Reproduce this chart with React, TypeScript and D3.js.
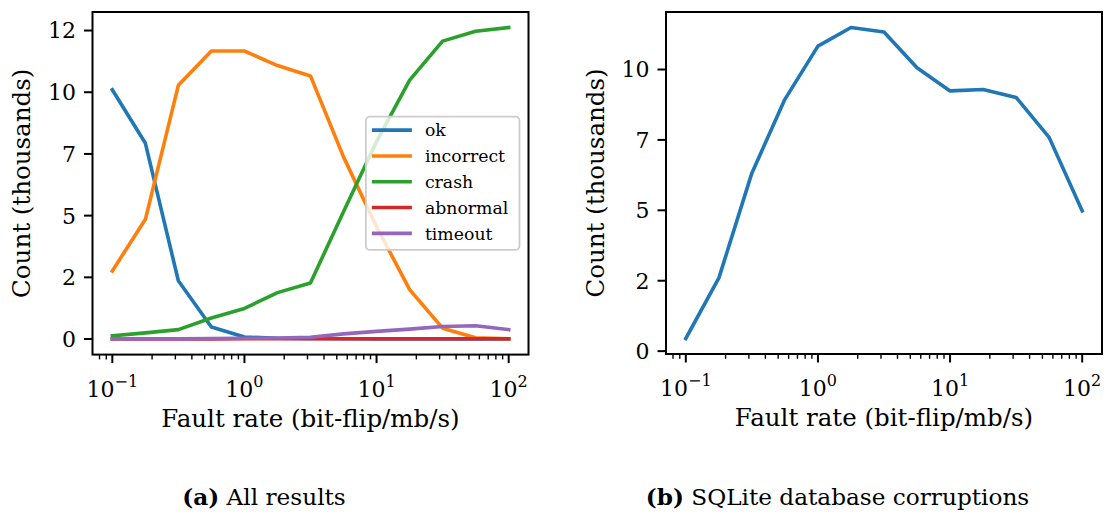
import React from "react";
import * as d3 from "d3";

// ---- data (counts in thousands) ----
const rates = [0.1, 0.178, 0.316, 0.562, 1, 1.78, 3.16, 5.62, 10, 17.8, 31.6, 56.2, 100];
const ok = [10.1, 7.93, 2.36, 0.49, 0.08, 0.03, 0.02, 0.01, 0, 0, 0, 0, 0];
const incorrect = [2.76, 4.85, 10.28, 11.67, 11.67, 11.08, 10.66, 7.38, 4.55, 2.0, 0.44, 0.05, 0.01];
const crash = [0.13, 0.25, 0.38, 0.85, 1.24, 1.88, 2.27, 5.16, 8.0, 10.49, 12.07, 12.47, 12.62];
const abnormal = [0, 0, 0, 0, 0.01, 0.01, 0.01, 0.01, 0.01, 0.01, 0.01, 0.01, 0.01];
const timeout = [0.01, 0.01, 0.01, 0.02, 0.03, 0.04, 0.07, 0.21, 0.31, 0.4, 0.51, 0.54, 0.38];
const corruptions = [0.45, 2.6, 6.32, 8.94, 10.83, 11.49, 11.33, 10.06, 9.24, 9.29, 9.01, 7.59, 4.98];

const seriesNames = ["ok", "incorrect", "crash", "abnormal", "timeout"];
const seriesValues = [ok, incorrect, crash, abnormal, timeout];
const colors = ["#1f77b4", "#ff7f0e", "#2ca02c", "#d62728", "#9467bd"];

const yTickValues = [0, 2.5, 5, 7.5, 10, 12.5];
const xTickExponents = [-1, 0, 1, 2];
const xLabel = "Fault rate (bit-flip/mb/s)";
const yLabel = "Count (thousands)";
const captions = [
  { tag: "(a)", text: "All results" },
  { tag: "(b)", text: "SQLite database corruptions" },
];

const FONT = "'DejaVu Serif', serif";
const FS_TICK = 22;
const FS_LABEL = 24.5;
const FS_LEGEND = 17.3;
const FS_CAPTION = 23.2;

type Series = { name: string; values: number[]; color: string };

function Panel({
  left, right, top, bottom, series, legend, captionX, caption,
}: {
  left: number; right: number; top: number; bottom: number;
  series: Series[]; legend: boolean; captionX: number; caption: { tag: string; text: string };
}) {
  const xr = d3.extent(rates) as [number, number];
  const lx0 = Math.log10(xr[0]), lx1 = Math.log10(xr[1]);
  const mx = (lx1 - lx0) * 0.05;
  const x = d3.scaleLog().domain([Math.pow(10, lx0 - mx), Math.pow(10, lx1 + mx)]).range([left, right]);

  const all = series.flatMap((s) => s.values);
  const ymin = d3.min(all) as number, ymax = d3.max(all) as number;
  const my = (ymax - ymin) * 0.05;
  const y = d3.scaleLinear().domain([ymin - my, ymax + my]).range([bottom, top]);

  const [d0, d1] = x.domain();
  const minor: number[] = [];
  for (let e = -2; e <= 3; e++) {
    for (let m = 2; m <= 9; m++) {
      const v = m * Math.pow(10, e);
      if (v > d0 && v < d1) minor.push(v);
    }
  }
  const yt = yTickValues.filter((v) => v >= y.domain()[0] && v <= y.domain()[1]);

  const line = d3.line<number>().x((_, i) => x(rates[i])).y((d) => y(d));

  const tickLen = 8.5, minorLen = 4.8, pad = 8;
  const legendW = 153.6, legendRow = 25.8, legendH = 133.3;
  const lgRight = right - 9;
  const lgLeft = lgRight - legendW;
  const lgTop = (top + bottom) / 2 - legendH / 2;

  return (
    <g>
      {series.map((s) => (
        <path key={s.name} d={line(s.values) || ""} fill="none" stroke={s.color}
          strokeWidth={3.6} strokeLinejoin="round" strokeLinecap="square" />
      ))}
      <rect x={left} y={top} width={right - left} height={bottom - top}
        fill="none" stroke="#000" strokeWidth={2} />
      {minor.map((v) => (
        <line key={"m" + v} x1={x(v)} x2={x(v)} y1={bottom} y2={bottom + minorLen} stroke="#000" strokeWidth={1.4} />
      ))}
      {xTickExponents.map((e) => {
        const v = Math.pow(10, e);
        return (
          <g key={"x" + e}>
            <line x1={x(v)} x2={x(v)} y1={bottom} y2={bottom + tickLen} stroke="#000" strokeWidth={2} />
            <text x={x(v)} y={bottom + 42} textAnchor="middle" fontFamily={FONT} fontSize={FS_TICK}>
              10<tspan dy={-10} fontSize={16}>{e < 0 ? "\u2212" + Math.abs(e) : String(e)}</tspan>
            </text>
          </g>
        );
      })}
      {yt.map((v) => (
        <g key={"y" + v}>
          <line x1={left - tickLen} x2={left} y1={y(v)} y2={y(v)} stroke="#000" strokeWidth={2} />
          <text x={left - tickLen - pad} y={y(v)} dy="0.36em" textAnchor="end" fontFamily={FONT} fontSize={FS_TICK}>
            {String(Math.floor(v))}
          </text>
        </g>
      ))}
      <text x={(left + right) / 2} y={bottom + 72} textAnchor="middle" fontFamily={FONT} fontSize={FS_LABEL}>
        {xLabel}
      </text>
      <text transform={`translate(${left - 71},${(top + bottom) / 2}) rotate(-90)`} dy="0.36em"
        textAnchor="middle" fontFamily={FONT} fontSize={FS_LABEL}>
        {yLabel}
      </text>
      {legend && (
        <g>
          <rect x={lgLeft} y={lgTop} width={legendW} height={legendH} rx={4} ry={4}
            fill="#fff" fillOpacity={0.8} stroke="#cccccc" strokeWidth={1.8} />
          {series.map((s, i) => {
            const cy = lgTop + 13.5 + i * legendRow;
            return (
              <g key={"lg" + s.name}>
                <line x1={lgLeft + 6} x2={lgLeft + 46} y1={cy} y2={cy} stroke={s.color} strokeWidth={3.6} />
                <text x={lgLeft + 59} y={cy} dy="0.36em" fontFamily={FONT} fontSize={FS_LEGEND}>{s.name}</text>
              </g>
            );
          })}
        </g>
      )}
      <text x={captionX} y={505} textAnchor="middle" fontFamily={FONT} fontSize={FS_CAPTION}>
        <tspan fontWeight="bold">{caption.tag}</tspan> {caption.text}
      </text>
    </g>
  );
}

export default function App() {
  const leftSeries: Series[] = seriesNames.map((n, i) => ({ name: n, values: seriesValues[i], color: colors[i] }));
  const rightSeries: Series[] = [{ name: "corruptions", values: corruptions, color: colors[0] }];
  return (
    <svg width={1107} height={514} style={{ position: "absolute", left: 0, top: 0, background: "#fff" }}>
      <rect width={1107} height={514} fill="#fff" />
      <Panel left={92.5} right={528.5} top={12} bottom={354.6} series={leftSeries} legend={true}
        captionX={264} caption={captions[0]} />
      <Panel left={666} right={1102} top={12} bottom={354} series={rightSeries} legend={false}
        captionX={837.5} caption={captions[1]} />
    </svg>
  );
}
